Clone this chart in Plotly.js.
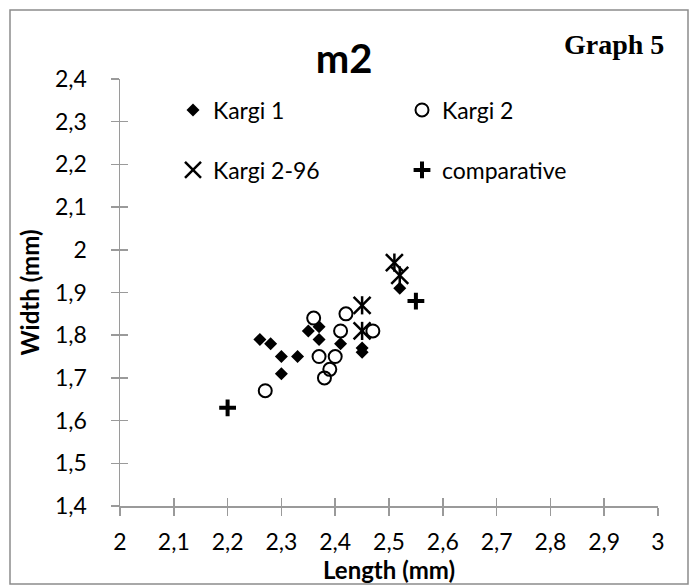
<!DOCTYPE html>
<html>
<head>
<meta charset="utf-8">
<script src="https://cdn.plot.ly/plotly-3.0.1.min.js"></script>
<style>html,body{margin:0;padding:0;background:#fff;}#chart{width:700px;height:587px;}</style>
</head>
<body>
<div id="chart"></div>
<script>
// Data
const kargi1X = [2.26, 2.28, 2.30, 2.33, 2.30, 2.35, 2.37, 2.37, 2.41, 2.45, 2.45, 2.52];
const kargi1Y = [1.79, 1.78, 1.75, 1.75, 1.71, 1.81, 1.82, 1.79, 1.78, 1.77, 1.76, 1.91];
const kargi2X = [2.27, 2.36, 2.37, 2.38, 2.39, 2.40, 2.41, 2.42, 2.47];
const kargi2Y = [1.67, 1.84, 1.75, 1.70, 1.72, 1.75, 1.81, 1.85, 1.81];
const kargi296X = [2.45, 2.45, 2.51, 2.52];
const kargi296Y = [1.87, 1.81, 1.97, 1.94];
const compX = [2.20, 2.55];
const compY = [1.63, 1.88];
const seriesNames = ["Kargi 1", "Kargi 2", "Kargi 2-96", "comparative"];

const FONT = "Lato, 'Open Sans', sans-serif";
const W = 700, H = 587, ML = 120, MR = 42, MT = 79, MB = 81;
const PW = W - ML - MR, PH = H - MT - MB;
const px = v => (v - ML) / PW;
const py = v => (H - MB - v) / PH;

const traces = [
  {x: kargi1X, y: kargi1Y, name: seriesNames[0], type: "scatter", mode: "markers", legend: "legend",
   marker: {symbol: "diamond", size: 10, color: "#000"}},
  {x: kargi2X, y: kargi2Y, name: seriesNames[1], type: "scatter", mode: "markers", legend: "legend",
   marker: {symbol: "circle-open", size: 13, color: "#000", line: {width: 2, color: "#000"}}},
  {x: kargi296X, y: kargi296Y, name: seriesNames[2], type: "scatter", mode: "markers", legend: "legend2",
   marker: {symbol: "x-thin-open", size: 17, color: "#000", line: {width: 2.5, color: "#000"}}},
  {x: kargi296X, y: kargi296Y, name: seriesNames[2], type: "scatter", mode: "markers", showlegend: false,
   marker: {symbol: "line-ns-open", size: 13, color: "#000", line: {width: 2.5, color: "#000"}}},
  {x: compX, y: compY, name: seriesNames[3], type: "scatter", mode: "markers", legend: "legend2",
   marker: {symbol: "cross-thin-open", size: 12, color: "#000", line: {width: 4, color: "#000"}}},
  {x: [null], y: [null], xaxis: "x2", yaxis: "y2", showlegend: false, hoverinfo: "skip", mode: "markers"}
];

const axisCommon = {
  showgrid: false, zeroline: false, showline: true, linecolor: "#9a9a9a", linewidth: 1.5,
  tickcolor: "#9a9a9a", tickwidth: 1.5, ticklen: 8, ticks: "outside",
  tickfont: {family: FONT, size: 23, color: "#000"}
};

const legendCommon = {
  orientation: "h", xanchor: "left", yanchor: "middle", bgcolor: "rgba(0,0,0,0)",
  font: {family: FONT, size: 23, color: "#000"}, entrywidth: 184, entrywidthmode: "pixels",
  itemwidth: 30, tracegroupgap: 0
};

const layout = {
  width: W, height: H,
  margin: {l: ML, r: MR, t: MT, b: MB, pad: 0},
  paper_bgcolor: "#fff", plot_bgcolor: "#fff",
  separators: ", ",
  showlegend: true,
  title: {text: "<b>m2</b>", font: {family: FONT, size: 40, color: "#000"},
          x: 344 / W, xanchor: "center", xref: "container", y: 1 - 59 / H, yanchor: "middle", yref: "container"},
  xaxis: Object.assign({}, axisCommon, {
    range: [2, 3], dtick: 0.1, tick0: 2,
    ticklabelstandoff: 7,
    title: {text: "<b>Length (mm)</b>", font: {family: FONT, size: 24, color: "#000"}, standoff: 8}
  }),
  yaxis: Object.assign({}, axisCommon, {
    range: [1.4, 2.4], dtick: 0.1, tick0: 1.4,
    ticklabelstandoff: 19,
    title: {text: "<b>Width (mm)</b>", font: {family: FONT, size: 24, color: "#000"}, standoff: 8}
  }),
  xaxis2: {overlaying: "x", anchor: "y", range: [2, 3], dtick: 0.1, tick0: 2, ticks: "inside", ticklen: 8,
           tickcolor: "#9a9a9a", tickwidth: 1.5, showticklabels: false, showgrid: false, zeroline: false, showline: false},
  yaxis2: {overlaying: "y", anchor: "x", side: "left", range: [1.4, 2.4], dtick: 0.1, tick0: 1.4, ticks: "inside", ticklen: 8,
           tickcolor: "#9a9a9a", tickwidth: 1.5, showticklabels: false, showgrid: false, zeroline: false, showline: false},
  legend: Object.assign({}, legendCommon, {x: px(173), y: py(110)}),
  legend2: Object.assign({}, legendCommon, {x: px(173), y: py(170)}),
  annotations: [
    {text: "<b>Graph 5</b>", xref: "paper", yref: "paper", x: px(614), y: py(45), xanchor: "center", yanchor: "middle",
     showarrow: false, font: {family: "'Liberation Serif', 'Times New Roman', serif", size: 28, color: "#000"}}
  ],
  shapes: [
    {type: "rect", xref: "paper", yref: "paper", x0: px(10), x1: px(688), y0: py(584), y1: py(10),
     line: {color: "#8c8c8c", width: 1.5}, fillcolor: "rgba(0,0,0,0)", layer: "below"}
  ]
};

Plotly.newPlot("chart", traces, layout, {displayModeBar: false, staticPlot: true});
</script>
</body>
</html>
